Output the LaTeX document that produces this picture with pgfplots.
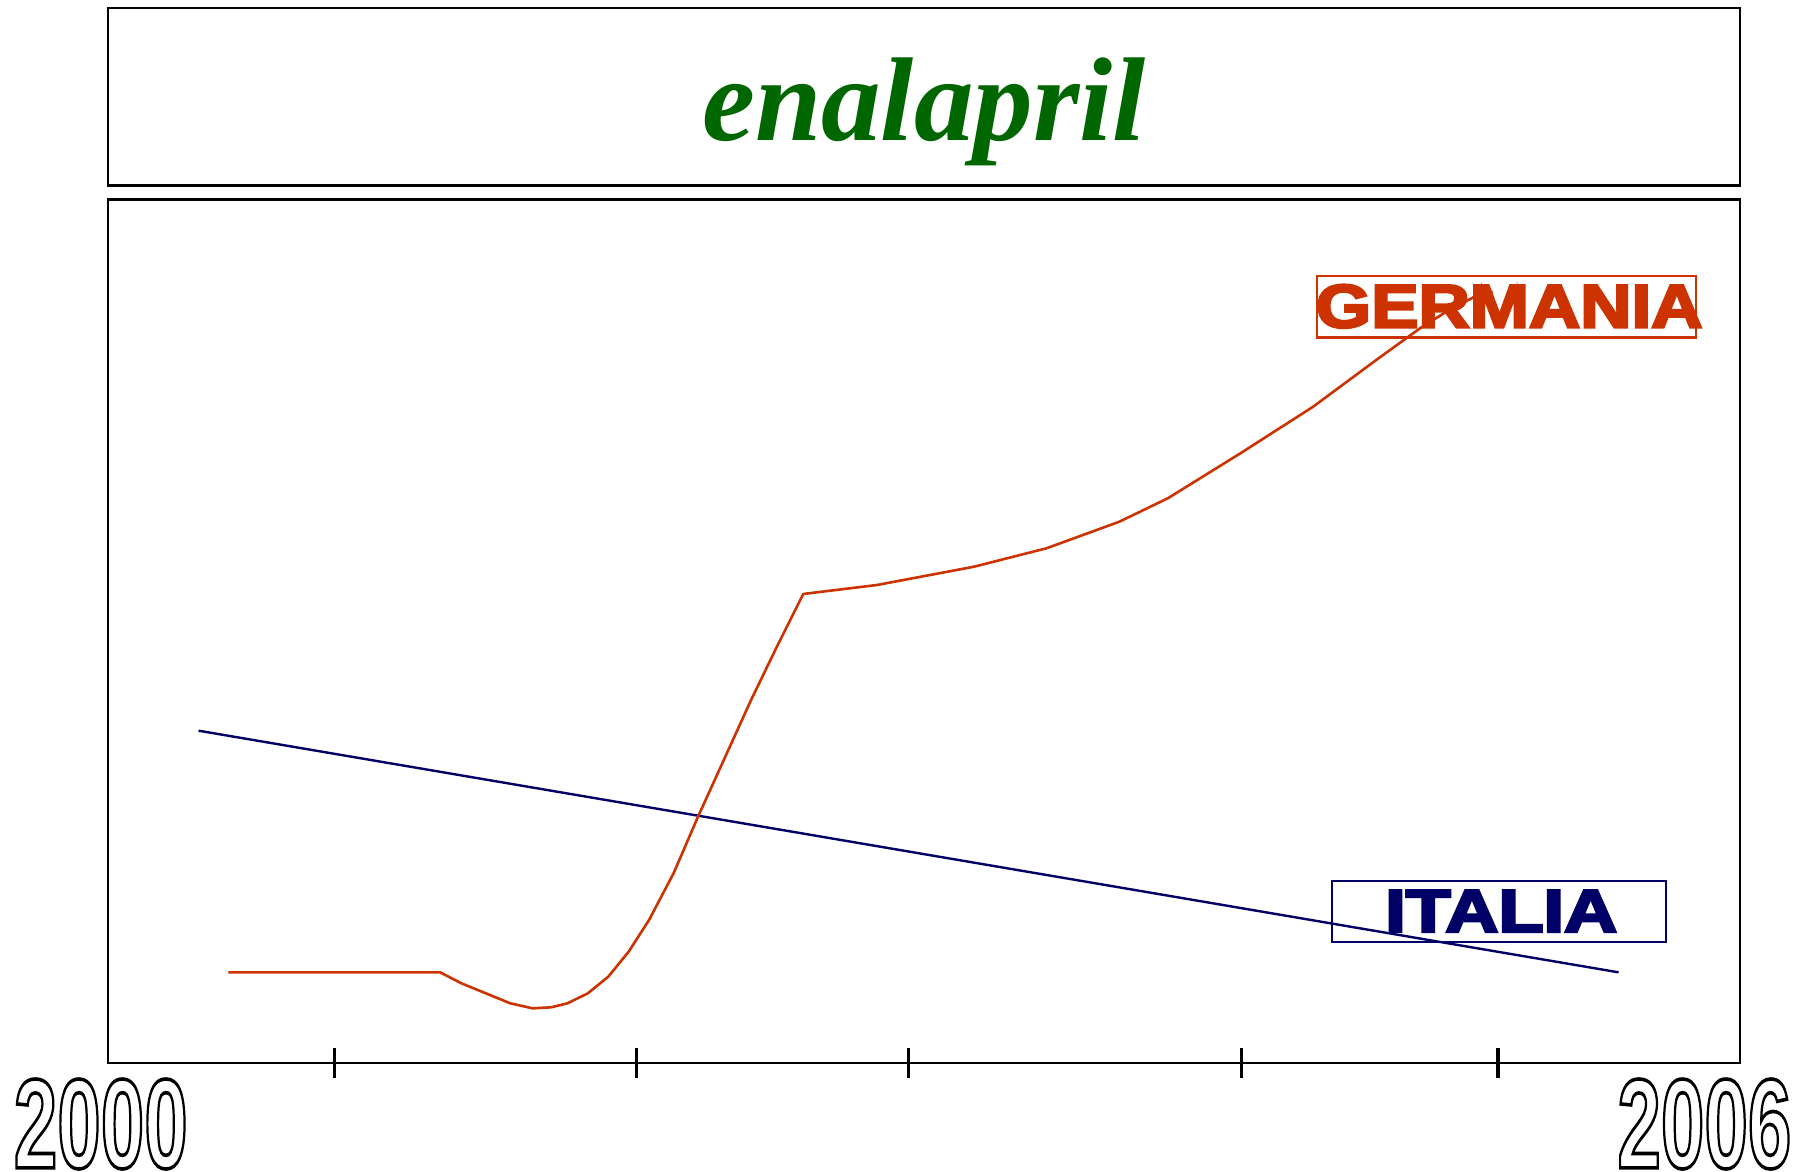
\documentclass[border=0pt]{standalone}
\usepackage{pgfplots}
\pgfplotsset{compat=1.18}
\usepackage{fontspec}
\usepackage{graphicx}
\setmainfont{Liberation Serif}
\newfontfamily\numfont{Liberation Sans Bold}
\newfontfamily\titlefont{Liberation Serif Bold Italic}
\newfontfamily\labfont{Liberation Sans Bold}[FakeBold=4]
\definecolor{ger}{HTML}{CC3300}
\definecolor{ita}{HTML}{000066}
\definecolor{tit}{HTML}{006600}
\newcommand{\outlined}[1]{\special{pdf:literal direct 1 Tr 0.9 w}#1\special{pdf:literal direct 0 Tr}}
\begin{document}
\begin{tikzpicture}
\path[use as bounding box] (0,0) rectangle (449pt,292.75pt);
% title box
\draw[line width=0.6pt] (26.925pt,246.35pt) rectangle (434.975pt,290.75pt);
\node[anchor=base, inner sep=0pt, text=tit] at (231.0pt,257.6pt)
  {\fontsize{29.8}{34}\selectfont\titlefont enalapril};
\begin{axis}[
  at={(26.925pt,27.025pt)}, anchor=south west,
  scale only axis, width=408.05pt, height=215.9pt,
  xmin=2000, xmax=2006, ymin=0, ymax=100,
  axis line style={line width=0.6pt},
  xtick={2000.834,2001.945,2002.943,2004.168,2005.111},
  xticklabels={}, ytick=\empty,
  xtick pos=bottom, tick align=center,
  major tick length=7.5pt,
  tick style={line width=0.8pt, black},
  clip=false,
]
\addplot[color=ita, line width=0.6pt] coordinates {
  (2000.334,38.47) (2005.554,10.49)
};
\addplot[color=ger, line width=0.65pt, line join=round] coordinates {
  (2000.444,10.49) (2001.222,10.49) (2001.300,9.22) (2001.390,8.06)
  (2001.480,6.90) (2001.562,6.32) (2001.630,6.44) (2001.690,6.90)
  (2001.765,8.06) (2001.840,9.98) (2001.915,12.88) (2001.990,16.55)
  (2002.080,21.95) (2002.170,28.51) (2002.365,42.02) (2002.460,48.20)
  (2002.557,54.30)
  (2002.828,55.34) (2003.185,57.46) (2003.451,59.59) (2003.719,62.67)
  (2003.897,65.38) (2004.164,70.59) (2004.431,75.98) (2004.663,81.39)
  (2004.824,85.06) (2004.931,87.18) (2005.037,88.92) (2005.091,89.30)
};
\end{axis}
% year labels (outlined)
\node[anchor=base, inner sep=0pt] at (25.2pt,0.8pt)
  {\scalebox{0.615}[1]{\fontsize{31.8}{36}\selectfont\numfont\outlined{2000}}};
\node[anchor=base, inner sep=0pt] at (426.1pt,0.8pt)
  {\scalebox{0.615}[1]{\fontsize{31.8}{36}\selectfont\numfont\outlined{2006}}};
% series labels
\draw[ger, line width=0.55pt] (329.2pt,208.4pt) rectangle (424pt,223.8pt);
\node[anchor=base, inner sep=0pt, text=ger] at (377.3pt,210.9pt)
  {\scalebox{1.16}[1]{\fontsize{15.3}{19}\selectfont\labfont GERMANIA}};
\draw[ita, line width=0.55pt] (332.9pt,57.25pt) rectangle (416.5pt,72.5pt);
\node[anchor=base, inner sep=0pt, text=ita] at (375.3pt,59.8pt)
  {\scalebox{1.22}[1]{\fontsize{15.1}{19}\selectfont\labfont ITALIA}};
\end{tikzpicture}
\end{document}
